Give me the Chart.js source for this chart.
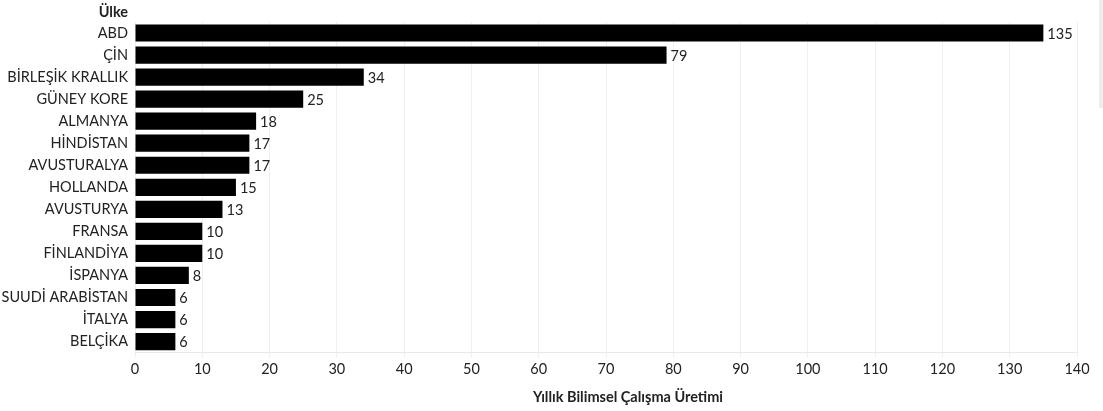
<!DOCTYPE html>
<html>
<head>
<meta charset="utf-8">
<script src="https://cdn.jsdelivr.net/npm/chart.js@4/dist/chart.umd.min.js"></script>
<style>
html,body{margin:0;padding:0;background:#fff;}
#wrap{width:1103px;height:411px;position:relative;}
</style>
</head>
<body>
<div id="wrap"><canvas id="c" width="1103" height="411"></canvas></div>
<script>
const categories = ["ABD","ÇİN","BİRLEŞİK KRALLIK","GÜNEY KORE","ALMANYA","HİNDİSTAN","AVUSTURALYA","HOLLANDA","AVUSTURYA","FRANSA","FİNLANDİYA","İSPANYA","SUUDİ ARABİSTAN","İTALYA","BELÇİKA"];
const values = [135,79,34,25,18,17,17,15,13,10,10,8,6,6,6];
const xTicks = [0,10,20,30,40,50,60,70,80,90,100,110,120,130,140];
const axisTitle = "Yıllık Bilimsel Çalışma Üretimi";
const headerTitle = "Ülke";

const FONT = "Lato, 'Open Sans', sans-serif";
const FS = 14.5;

const extras = {
  id: 'extras',
  afterDatasetsDraw(chart) {
    const ctx = chart.ctx;
    const meta = chart.getDatasetMeta(0);
    ctx.save();
    ctx.font = FS + "px " + FONT;
    ctx.fillStyle = "#222";
    ctx.textAlign = "left";
    ctx.textBaseline = "middle";
    meta.data.forEach((bar, i) => {
      ctx.fillText(String(values[i]), bar.x + 4, bar.y + 1);
    });
    ctx.restore();
  },
  afterDraw(chart) {
    const ctx = chart.ctx;
    const ca = chart.chartArea;
    ctx.save();
    ctx.fillStyle = "#222";
    ctx.font = "bold " + FS + "px " + FONT;
    ctx.textBaseline = "middle";
    ctx.textAlign = "right";
    ctx.fillText(headerTitle, ca.left - 7, 12);
    ctx.textAlign = "center";
    ctx.fillText(axisTitle, 628, 397);
    ctx.fillStyle = "#ededed";
    ctx.fillRect(1099, 0, 4, 108);
    ctx.restore();
  }
};

new Chart(document.getElementById('c'), {
  type: 'bar',
  data: {
    labels: categories,
    datasets: [{
      data: values,
      backgroundColor: '#000',
      borderWidth: 0,
      barPercentage: 0.78,
      categoryPercentage: 1.0
    }]
  },
  options: {
    indexAxis: 'y',
    responsive: false,
    animation: false,
    devicePixelRatio: 1,
    layout: { padding: { top: 22, right: 26, bottom: 30, left: 0 } },
    plugins: { legend: { display: false }, tooltip: { enabled: false } },
    scales: {
      x: {
        min: 0, max: 140,
        afterBuildTicks(scale) { scale.ticks = xTicks.map(v => ({ value: v })); },
        grid: { color: '#efefef', tickLength: 5, drawTicks: true, tickColor: '#efefef' },
        border: { color: '#e8e8e8' },
        ticks: { color: '#222', font: { family: FONT, size: FS }, padding: 3, maxRotation: 0 }
      },
      y: {
        afterFit(scale) { scale.width = 135; },
        grid: { display: false, drawTicks: false },
        border: { display: false },
        ticks: { color: '#222', font: { family: FONT, size: FS }, padding: 7, autoSkip: false }
      }
    }
  },
  plugins: [extras]
});
</script>
</body>
</html>
